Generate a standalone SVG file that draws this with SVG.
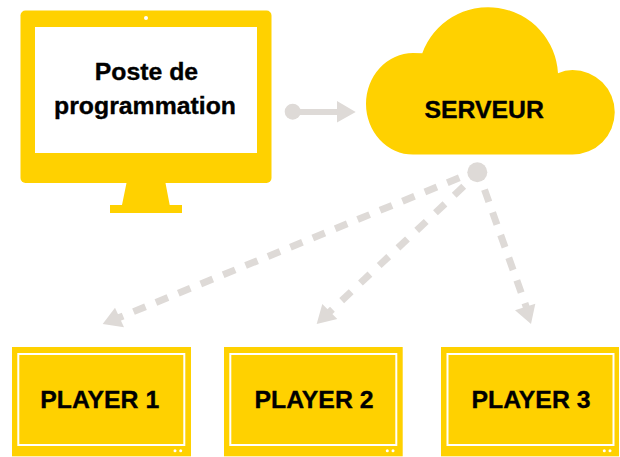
<svg xmlns="http://www.w3.org/2000/svg" width="620" height="457" viewBox="0 0 620 457">
<style>
.y{fill:#FFD100}
.w{fill:#fff}
.f{fill:none;stroke:#fff;stroke-width:2}
.g{fill:#DEDAD7}
.l{fill:none;stroke:#DEDAD7;stroke-width:6}
.d{stroke-width:7}
text{font-family:"Liberation Sans",Arial,sans-serif;font-weight:700;fill:#000;stroke:#000;stroke-width:.35;text-anchor:middle;font-size:24.8px}
</style>
<rect width="620" height="457" fill="#fff"/>
<g id="poste">
<path class="y" d="M126.700 182L165.300 182L169.700 205L182 205L182 213L110 213L110 205L122 205Z"/>
<rect class="y" x="20.500" y="10.500" width="251" height="172.500" rx="5"/>
<rect class="w" x="35" y="27" width="222" height="126"/>
<circle class="w" cx="146" cy="18" r="2"/>
<text x="146.500" y="80">Poste de</text>
<text x="145" y="114">programmation</text>
</g>
<g id="serveur">
<path class="y" d="M413 154.500A47 50.700 0 0 1 413 53.100Q418 53.100 422.300 53.300A70 70 0 0 1 558 73.300Q565 70 572.500 70A42.250 42.250 0 0 1 572.500 154.500Z"/>
<text x="484.200" y="118">SERVEUR</text>
</g>
<g id="connecteurs">
<circle class="g" cx="292.700" cy="111.700" r="8"/>
<path class="l" d="M298 112H340"/>
<polygon class="g" points="337,101 355.700,112 337,122.500"/>
<circle class="g" cx="477.300" cy="172.300" r="10"/>
<path class="l d" stroke-dasharray="13 11.230" d="M459.300 177.800L118 318"/>
<polygon class="g" points="115,307.700 124,327.300 102.700,324"/>
<path class="l d" stroke-dasharray="13 12.700" d="M463.700 186.300L327.200 314.200"/>
<polygon class="g" points="322.300,304 337.300,319 316.700,324"/>
<path class="l d" stroke-dasharray="13 11.100" d="M484.500 189.600L526.400 307.300"/>
<polygon class="g" points="515,310.300 535.300,303.700 531,324"/>
</g>
<g id="player1">
<rect class="y" x="12" y="347" width="179" height="109.300"/>
<rect class="f" x="18.300" y="354" width="166" height="91"/>
<circle class="w" cx="175" cy="450.700" r="1.500"/><circle class="w" cx="180.700" cy="450.700" r="1.500"/>
<text x="99.700" y="408">PLAYER 1</text>
</g>
<g id="player2">
<rect class="y" x="224" y="347" width="178.700" height="109.300"/>
<rect class="f" x="230.300" y="354" width="166" height="91"/>
<circle class="w" cx="387.300" cy="450.700" r="1.500"/><circle class="w" cx="393" cy="450.700" r="1.500"/>
<text x="314" y="408">PLAYER 2</text>
</g>
<g id="player3">
<rect class="y" x="441" y="347" width="178" height="109.300"/>
<rect class="f" x="447.500" y="354" width="166" height="91"/>
<circle class="w" cx="604.300" cy="450.700" r="1.500"/><circle class="w" cx="610" cy="450.700" r="1.500"/>
<text x="531" y="408">PLAYER 3</text>
</g>
</svg>
